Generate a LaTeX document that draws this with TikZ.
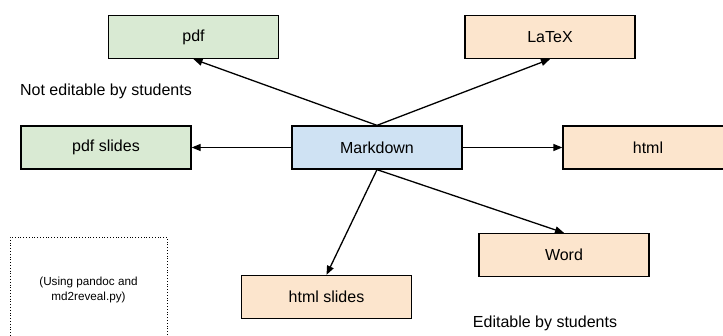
\documentclass[tikz,border=0pt]{standalone}
\usepackage{fontspec}
\setmainfont{Liberation Sans}
\usetikzlibrary{arrows.meta,positioning}

\definecolor{outgreen}{HTML}{D9EAD3}
\definecolor{outorange}{HTML}{FCE5CD}
\definecolor{srcblue}{HTML}{CFE2F3}

\begin{document}
\begin{tikzpicture}[x=1pt,y=1pt,on grid,line width=1.3pt,
    >={Triangle[length=9pt,width=7pt]},
    fmt/.style={draw,minimum width=170pt,minimum height=43pt,
      font=\fontsize{16}{19}\selectfont},
    note/.style={font=\fontsize{16}{19}\selectfont}]
       \tikzstyle{fixed}=[fmt,fill=outgreen]
       \tikzstyle{editable}=[fmt,fill=outorange]

       \useasboundingbox (0,0) rectangle (723,336);

       \node[fmt,fill=srcblue] (md) at (377,188.5) {Markdown};
       \node[fixed] (pdf) [above left=110.5pt and 183.5pt of md] {pdf};
       \node[editable] (tex) [above right=110.5pt and 173pt of md] {LaTeX};
       \node[fixed] (pdfsl) [left=271pt of md] {pdf slides};
       \node[editable] (html) [right=271pt of md] {html};
       \node[editable] (htmlsl) [below left=149.5pt and 50.5pt of md] {html slides};
       \node[editable] (word) [below right=107.5pt and 187pt of md] {Word};

       \node[note] (fixednote) [above=56pt of pdfsl] {Not editable by students};
       \node[note] (editnote) [below left=68pt and 19pt of word] {Editable by students};

       % tools used
       \node[draw,dotted,line width=0.8pt,minimum width=157pt,minimum height=106pt,
         align=center,font=\fontsize{11.7}{15}\selectfont] (tools) at (88.5,46)
         {(Using pandoc and\\md2reveal.py)};

       \path[->]
       (md.north) edge (pdf.south)
                  edge (tex.south)
       (md.west) edge (pdfsl.east)
       (md.east) edge (html.west)
       (md.south) edge (htmlsl.north)
                  edge (word.north);

\end{tikzpicture}
\end{document}
